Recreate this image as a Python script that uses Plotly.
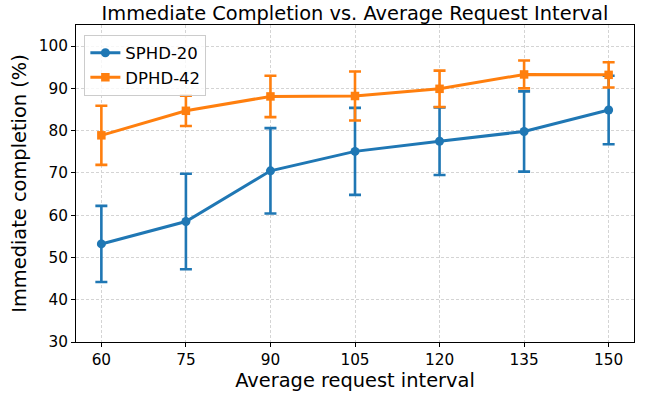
import plotly.graph_objects as go

intervals = [60, 75, 90, 105, 120, 135, 150]
sphd_mean = [53.2, 58.5, 70.5, 75.1, 77.5, 79.8, 84.9]
sphd_err = [9.0, 11.3, 10.1, 10.3, 8.0, 9.5, 8.1]
dphd_mean = [78.9, 84.7, 88.1, 88.2, 89.9, 93.3, 93.2]
dphd_err = [7.0, 3.6, 4.9, 5.8, 4.3, 3.3, 3.0]
x_ticks = [60, 75, 90, 105, 120, 135, 150]
y_ticks = [30, 40, 50, 60, 70, 80, 90, 100]

blue = "#1f77b4"
orange = "#ff7f0e"

fig = go.Figure()
fig.add_trace(go.Scatter(
    x=intervals, y=sphd_mean, name="SPHD-20", mode="lines+markers",
    line=dict(color=blue, width=3),
    marker=dict(symbol="circle", size=9, color=blue),
    error_y=dict(type="data", array=sphd_err, visible=True, color=blue, thickness=2.6, width=6),
))
fig.add_trace(go.Scatter(
    x=intervals, y=dphd_mean, name="DPHD-42", mode="lines+markers",
    line=dict(color=orange, width=3),
    marker=dict(symbol="square", size=8.5, color=orange),
    error_y=dict(type="data", array=dphd_err, visible=True, color=orange, thickness=2.6, width=6),
))

axis_common = dict(
    showline=True, linecolor="black", linewidth=1, mirror=True,
    ticks="outside", ticklen=4, tickcolor="black",
    showgrid=True, gridcolor="#d4d4d4", griddash="3px,2px", gridwidth=0.8,
    zeroline=False, automargin=False,
    tickfont=dict(family="DejaVu Sans", size=15.3, color="black"),
)

fig.update_layout(
    width=646, height=393,
    margin=dict(l=76, r=12, t=25, b=51),
    paper_bgcolor="white", plot_bgcolor="white",
    title=dict(text="Immediate Completion vs. Average Request Interval",
               x=0.5495, xanchor="center", yref="container", y=0.966, yanchor="middle",
               font=dict(family="DejaVu Sans", size=19.4, color="black")),
    xaxis=dict(range=[55.5, 154.5], tickvals=x_ticks,
               title=dict(text="Average request interval", standoff=2,
                          font=dict(family="DejaVu Sans", size=19.4, color="black")),
               **axis_common),
    yaxis=dict(range=[30, 105], tickvals=y_ticks,
               title=dict(text="Immediate completion (%)", standoff=6,
                          font=dict(family="DejaVu Sans", size=19.4, color="black")),
               **axis_common),
    legend=dict(x=0.015, y=0.97, xanchor="left", yanchor="top",
                bgcolor="rgba(255,255,255,0.8)", bordercolor="#cccccc", borderwidth=1,
                font=dict(family="DejaVu Sans", size=16.5, color="black"),
                tracegroupgap=0),
    showlegend=True,
)

fig.write_html("out.html", config={"displayModeBar": False},
               post_script="document.body.style.margin='0';")
